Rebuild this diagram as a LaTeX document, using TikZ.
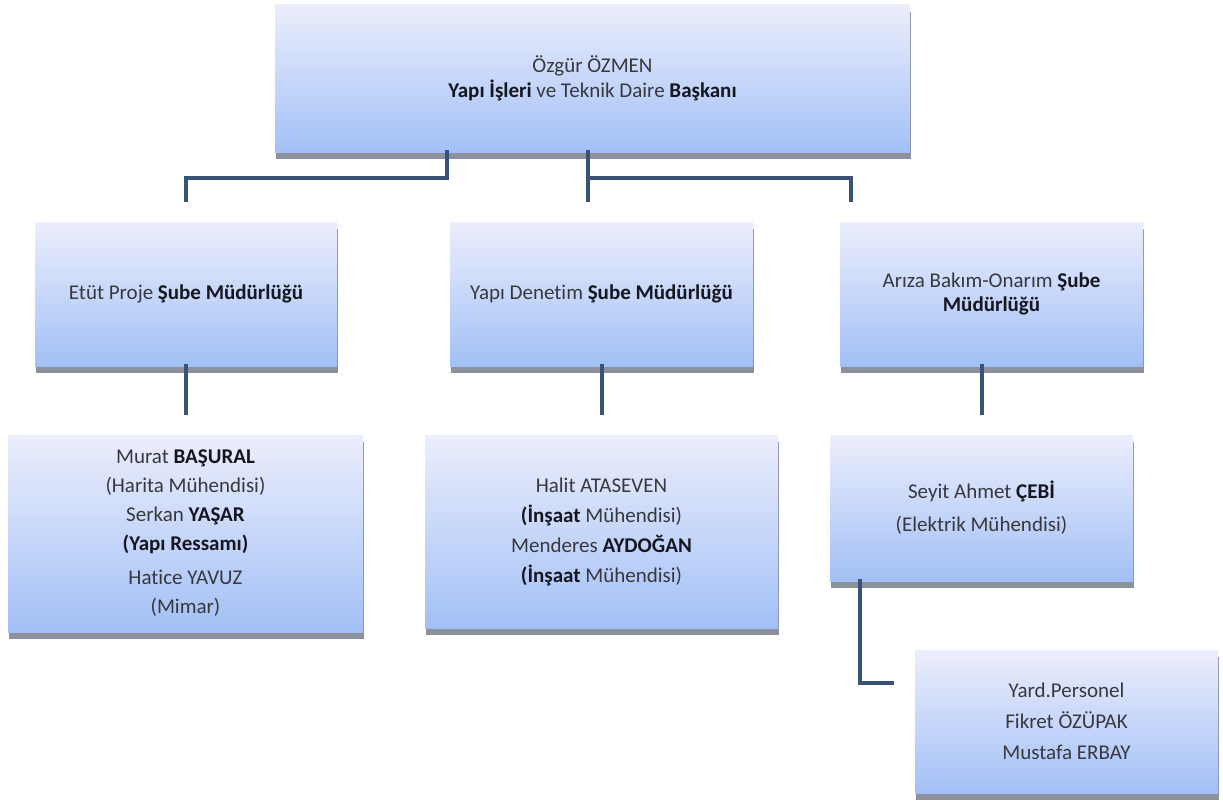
\documentclass[tikz,border=0pt]{standalone}
\usepackage{fontspec}
\setmainfont{Carlito}[Ligatures=NoCommon]
\usetikzlibrary{calc,shadows}
\definecolor{boxtop}{RGB}{236,238,252}
\definecolor{boxmid}{RGB}{210,223,250}
\definecolor{boxbot}{RGB}{162,192,246}
\definecolor{shadowc}{RGB}{140,145,156}
\definecolor{connc}{RGB}{58,82,118}
\definecolor{txtc}{RGB}{56,56,62}
\definecolor{boldc}{RGB}{22,22,32}
\newcommand\bt[1]{{\bfseries\color{boldc}#1}}
\tikzset{
  box/.style={rectangle, inner sep=0pt, align=center, text=txtc,
    top color=boxtop, middle color=boxmid, bottom color=boxbot,
    drop shadow={shadow xshift=1pt, shadow yshift=-7pt, fill=shadowc, opacity=1},
    font=\fontsize{21}{30}\selectfont},
  conn/.style={draw=connc, line width=4pt, line cap=rect, line join=miter}
}
\begin{document}
\begin{tikzpicture}[x=1pt,y=-1pt]
\useasboundingbox[fill=white] (0,0) rectangle (1223,808);
% level 1
\node[box, minimum width=635pt, minimum height=147pt, font=\fontsize{21}{25}\selectfont] (top) at (592.5,78.5)
  {Özgür ÖZMEN\\\bt{Yapı İşleri} ve Teknik Daire \bt{Başkanı}};
% level 2
\node[box, minimum width=302pt, minimum height=144pt] (e1) at (186,294) {Etüt Proje \bt{Şube Müdürlüğü}};
\node[box, minimum width=303pt, minimum height=144pt] (e2) at (601.5,294) {Yapı Denetim \bt{Şube Müdürlüğü}};
\node[box, minimum width=303pt, minimum height=144pt, font=\fontsize{21}{24}\selectfont] (e3) at (991.5,294) {Arıza Bakım-Onarım \bt{Şube}\\\bt{Müdürlüğü}};
% level 3
\node[box, minimum width=355pt, minimum height=197pt, font=\fontsize{21}{29}\selectfont] (p1) at (185.5,533.5)
  {Murat \bt{BAŞURAL}\\(Harita Mühendisi)\\Serkan \bt{YAŞAR}\\\bt{(Yapı Ressamı)}\\[5pt]Hatice YAVUZ\\(Mimar)};
\node[box, minimum width=353pt, minimum height=193pt] (p2) at (601.5,531.5)
  {Halit ATASEVEN\\\bt{(İnşaat} Mühendisi)\\Menderes \bt{AYDOĞAN}\\\bt{(İnşaat} Mühendisi)};
\node[box, minimum width=303pt, minimum height=146pt, font=\fontsize{21}{33}\selectfont] (p3) at (981.5,508)
  {Seyit Ahmet \bt{ÇEBİ}\\(Elektrik Mühendisi)};
\node[box, minimum width=303pt, minimum height=143pt, font=\fontsize{21}{31}\selectfont] (p4) at (1066.5,721.5)
  {Yard.Personel\\Fikret ÖZÜPAK\\Mustafa ERBAY};
% connectors level 1 -> 2
\draw[conn] ($(top.south west)+(172,0)$) |- ($(e1.north)+(0,-44)$) -- ($(e1.north)+(0,-22)$);
\draw[conn] ($(top.south west)+(313,0)$) -- ($(top.south west)+(313,48)$);
\draw[conn] ($(top.south west)+(313,26)$) -| ($(e3.north)+(-140.5,-22)$);
% connectors level 2 -> 3
\draw[conn] (e1.south -| p1.north) -- ($(p1.north)+(0,-22)$);
\draw[conn] (e2.south) -- ($(p2.north)+(0,-22)$);
\draw[conn] (e3.south -| p3.north) -- ($(p3.north)+(0,-22)$);
% connector p3 -> p4
\draw[conn] ($(p3.south west)+(30,0)$) |- ($(p4.north west)+(-23,33)$);
\end{tikzpicture}
\end{document}
